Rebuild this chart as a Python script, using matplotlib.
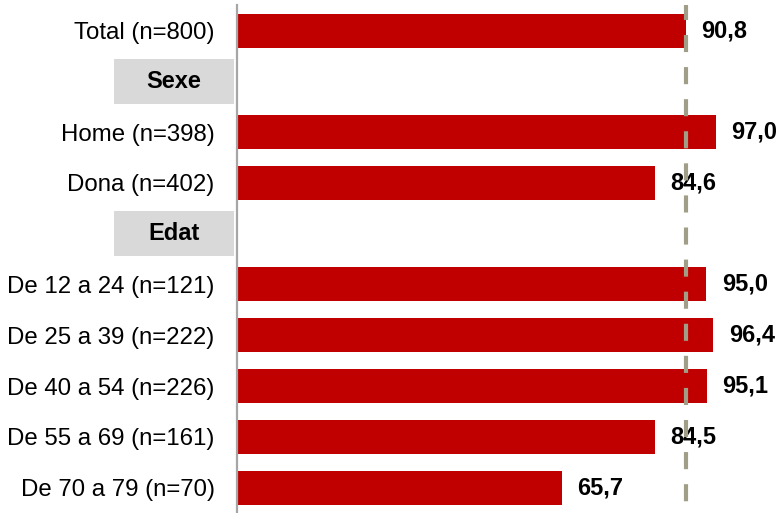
import matplotlib
matplotlib.use("Agg")
import matplotlib.pyplot as plt
import matplotlib.transforms as mtrans
from matplotlib.patches import Rectangle
import numpy as np

plt.rcParams['font.family'] = ['Liberation Sans', 'DejaVu Sans']

# rows from top to bottom; headers have no value
labels = ['Total (n=800)', 'Sexe', 'Home (n=398)', 'Dona (n=402)', 'Edat',
          'De 12 a 24 (n=121)', 'De 25 a 39 (n=222)', 'De 40 a 54 (n=226)',
          'De 55 a 69 (n=161)', 'De 70 a 79 (n=70)']
values = [90.8, None, 97.0, 84.6, None, 95.0, 96.4, 95.1, 84.5, 65.7]
headers = ['Sexe', 'Edat']
total = 90.8

fig = plt.figure(figsize=(7.82, 5.13), dpi=100)
ax = fig.add_axes([0.303, 0.0, 0.697, 0.990])

ypos = np.arange(len(labels))
for y, lab, v in zip(ypos, labels, values):
    if v is None:
        continue
    ax.barh(y, v, height=0.67, color='#c00000')
    ax.text(v + 3.1, y, f'{v:.1f}'.replace('.', ','), va='center', ha='left',
            fontsize=17, fontweight='bold', color='black')

# dashed reference line for the total, drawn from the top down
ax.plot([total, total], [-0.5, 9.6], color='#a09e87', lw=3,
        ls=(0.5, (4.1, 3.6)), zorder=4, solid_capstyle='butt')

# header boxes left of the axis
tr = mtrans.blended_transform_factory(ax.transAxes, ax.transData)
for y, lab in zip(ypos, labels):
    if lab in headers:
        ax.add_patch(Rectangle((-0.2257, y - 0.443), 0.220, 0.886, transform=tr,
                               facecolor='#d9d9d9', edgecolor='none', clip_on=False))
        ax.text(-0.2257 + 0.110, y, lab, transform=tr, ha='center', va='center',
                fontsize=17, fontweight='bold')

ax.set_yticks(ypos)
ax.set_yticklabels(['' if l in headers else l for l in labels], fontsize=17.3)
ax.tick_params(axis='y', length=0, pad=16)
ax.set_xticks([])
ax.set_xlim(0, 110.3)
ax.set_ylim(9.5, -0.5)
for s in ['top', 'right', 'bottom']:
    ax.spines[s].set_visible(False)
ax.spines['left'].set_color('#a6a6a6')
ax.spines['left'].set_linewidth(1.6)

fig.savefig('out.png', dpi=100)
